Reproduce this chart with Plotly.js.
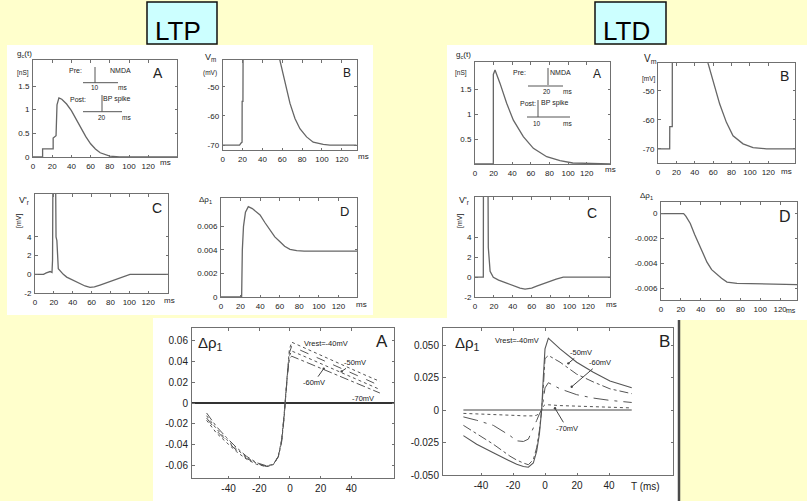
<!DOCTYPE html>
<html><head><meta charset="utf-8">
<script src="https://cdn.plot.ly/plotly-3.0.1.min.js"></script>
<style>html,body{margin:0;padding:0;background:#FFFFCC;overflow:hidden;}#chart{width:807px;height:501px;}</style>
</head><body><div id="chart"></div>
<script>
// ---------------- DATA ----------------
// LTP (pre at 10 ms, post at 20 ms)
const ltpA_t=[0,10,10,21,21,24,25,27,30,35,40,46,50,55,60,65,70,75,80,90,150];
const ltpA_g=[0,0,0.17,0.17,0.4,0.45,1.1,1.25,1.22,1.12,0.98,0.75,0.6,0.43,0.28,0.17,0.09,0.05,0.02,0,0];
const ltpB_t=[0,17,18.5,19.5,19.6,20.4,20.6,55,57.7,62.8,67.8,72.8,77.8,84.5,91.2,101.3,108,135];
const ltpB_v=[-70,-70,-69.3,-69,-55,-55,-30,-36,-41,-48.8,-55.7,-60.9,-64.4,-67.2,-69,-69.8,-70,-70];
const ltpC_t=[0,9,12,16,18,18.6,19.2,21.5,22.3,23.2,24.7,27,30,33.6,40,47.7,53,58.3,63,68.9,76,83,88,93.6,100.7,141];
const ltpC_v=[0,0,0.15,0.3,0.2,1.5,15,15,4,3.6,0.6,0.3,0,-0.3,-0.6,-0.95,-1.25,-1.4,-1.35,-1.15,-0.9,-0.6,-0.4,-0.2,0,0];
const ltpD_t=[0,21.1,21.8,23,25,27.9,32,39.9,45,50.1,55,60.3,65,70.5,77.4,85,139];
const ltpD_v=[0,0,0.0040,0.0060,0.0072,0.00766,0.0075,0.00696,0.0063,0.00568,0.0051,0.00469,0.0043,0.00405,0.00393,0.0039,0.0039];
// LTD (post at 10 ms, pre at 20 ms)
const ltdA_t=[0,19.7,19.7,21.5,26.9,34,41.2,51.9,62.7,77,91.3,105,145];
const ltdA_g=[0,0,1.8,1.89,1.62,1.22,0.88,0.55,0.315,0.147,0.07,0.02,0];
const ltdB_t=[0,12.7,12.8,15.5,15.6,52,54.4,59.9,67.1,74.4,81.6,92.5,103.4,118,149];
const ltdB_v=[-70,-70,-62.4,-62.4,-30,-35,-40.5,-46.6,-54.6,-60.9,-65.5,-68.3,-69.6,-70,-70];
const ltdC_t=[0,8.8,9,13.5,14.1,15,16,19.4,25,33.5,40,47.7,53,60,65.3,72,79.4,86,93.5,143];
const ltdC_v=[0,0,15,15,3,1.5,0.6,0,-0.3,-0.6,-0.85,-1.1,-1.2,-1.1,-0.9,-0.65,-0.4,-0.2,0,0];
const ltdD_t=[0,22.8,25,29.5,34,39.6,46.3,51,56.4,61,66.5,76.5,137];
const ltdD_v=[0,0,-0.0002,-0.0008,-0.0017,-0.0027,-0.0039,-0.0045,-0.0049,-0.0052,-0.0055,-0.0056,-0.0057];
// Bottom A: Δρ1 vs T for Vrest = -40,-50,-60,-70 mV
const botA_T=[-54.3,-47.8,-41.3,-34.8,-28.3,-21.7,-15.2,-10.9,-7.6,-5.4,-3.9,-2.8,-1.7,-0.4,1.1,10,20,30,40,50,58.6];
const botA_m40=[-0.0166,-0.0290,-0.0380,-0.0468,-0.0540,-0.0590,-0.0612,-0.0594,-0.0512,-0.0352,-0.0128,0.0096,0.032,0.0512,0.0585,0.0525,0.0458,0.0393,0.0327,0.0262,0.0208];
const botA_m50=[-0.0144,-0.0268,-0.0364,-0.0455,-0.0532,-0.0585,-0.0610,-0.0594,-0.0515,-0.0360,-0.0140,0.0080,0.030,0.0480,0.0545,0.0488,0.0421,0.0355,0.0290,0.0224,0.0166];
const botA_m60=[-0.0122,-0.0250,-0.0350,-0.0442,-0.0522,-0.0580,-0.0607,-0.0592,-0.0518,-0.0368,-0.0150,0.0070,0.028,0.0450,0.0500,0.0444,0.0380,0.0315,0.0250,0.0186,0.0130];
const botA_m70=[-0.0096,-0.0228,-0.0332,-0.0428,-0.0512,-0.0574,-0.0604,-0.0590,-0.0520,-0.0375,-0.0160,0.0060,0.026,0.0420,0.0450,0.0396,0.0334,0.0272,0.0210,0.0148,0.0096];
// Bottom B
const botB_T=[-51,-42.7,-32.3,-21.9,-17.7,-13.5,-10.4,-7.3,-5.2,-3.5,-2.1,-1,0,2.1,9.4,19.8,30.2,40.6,54.2];
const botB_m40=[-0.0197,-0.0263,-0.0329,-0.0395,-0.0418,-0.0434,-0.044,-0.0408,-0.0316,-0.0184,0,0.0263,0.047,0.0553,0.047,0.0368,0.029,0.0224,0.0171];
const botB_m50=[-0.0118,-0.0184,-0.0263,-0.0355,-0.0385,-0.0408,-0.0421,-0.0382,-0.029,-0.0158,0,0.0184,0.0395,0.042,0.0368,0.0276,0.0216,0.0163,0.0126];
const botB_m60=[-0.0053,-0.0079,-0.0118,-0.0197,-0.0237,-0.0242,-0.0224,-0.0145,-0.008,-0.003,0,0.008,0.017,0.021,0.0163,0.0118,0.0092,0.0074,0.0058];
const botB_m70=[-0.0026,-0.0029,-0.0032,-0.004,-0.0042,-0.0045,-0.0047,-0.0045,-0.004,-0.0025,0,0.003,0.004,0.004,0.0034,0.003,0.0024,0.002,0.0016];
const botB_zeroT=[-51,54.2];
const botB_zeroV=[0,0];
// tick labels
const msTicks=[0,20,40,60,80,100,120];
const msText=['0','20','40','60','80','100','120'];
const botTicks=[-40,-20,0,20,40];
const botTickText=['-40','-20','0','20','40'];

// ---------------- LAYOUT HELPERS ----------------
const W=807,H=501;
const px=x=>x/W, py=y=>1-y/H;
const FONT='Liberation Sans, Arial, sans-serif';
const LC='#707070';
const INK='#222';

function axis(dom, range, tv, tt, size, anchor){
  return {domain:dom, range:range, tickvals:tv, ticktext:tt, showline:true, mirror:'ticks',
    linecolor:LC, linewidth:1, ticks:'inside', ticklen:2.5, tickcolor:LC, tickwidth:1,
    tickfont:{family:FONT,size:size,color:INK}, showgrid:false, zeroline:false,
    anchor:anchor, fixedrange:true, ticklabelstandoff:1};
}
const panels=[
 {box:[33,60,177,157], xr:[0,150], yr:[0,2.05], yt:[0,0.5,1,1.5], ytt:['0','0.5','1','1.5']},
 {box:[222.7,60,356.7,150], xr:[0,135], yr:[-71.7,-40.8], yt:[-70,-60,-50], ytt:['-70','-60','-50']},
 {box:[35,194,168,293], xr:[0,141], yr:[-2,8.6], yt:[-2,0,2,4], ytt:['-2','0','2','4']},
 {box:[221,198,357,297], xr:[0,139], yr:[0,0.0084], yt:[0,0.002,0.004,0.006], ytt:['0','0.002','0.004','0.006']},
 {box:[475,62,610,164], xr:[0,145], yr:[0,2.05], yt:[0.5,1,1.5], ytt:['0.5','1','1.5']},
 {box:[658,63,795,163], xr:[0,149], yr:[-74.9,-40.45], yt:[-70,-60,-50], ytt:['-70','-60','-50']},
 {box:[475,197,610,297], xr:[0,143], yr:[-2,8.1], yt:[-2,0,2,4], ytt:['-2','0','2','4']},
 {box:[661,202,797,300], xr:[0,137], yr:[-0.00694,0.00093], yt:[0,-0.002,-0.004,-0.006], ytt:['0','-0.002','-0.004','-0.006']},
 {box:[192,328,394,478], xr:[-63.8,67.8], yr:[-0.0721,0.0721], yt:[-0.06,-0.04,-0.02,0,0.02,0.04,0.06], ytt:['-0.06','-0.04','-0.02','0','0.02','0.04','0.06'], bottom:true},
 {box:[443,328,673,475], xr:[-63.75,80], yr:[-0.05,0.0631], yt:[-0.05,-0.025,0,0.025,0.05], ytt:['-0.050','-0.025','0','0.025','0.050'], bottom:true}
];
const layout={width:W,height:H,margin:{l:0,r:0,t:0,b:0,autoexpand:false},paper_bgcolor:'#FFFFCC',plot_bgcolor:'rgba(0,0,0,0)',
  showlegend:false,shapes:[],annotations:[],font:{family:FONT,color:INK}};
panels.forEach((p,i)=>{
  const n=i===0?'':String(i+1);
  const [x0,y0,x1,y1]=p.box;
  const fs=p.bottom?10:8;
  const xa=axis([px(x0),px(x1)],p.xr,p.bottom?botTicks:msTicks,p.bottom?botTickText:msText,fs,'y'+n);
  const ya=axis([py(y1),py(y0)],p.yr,p.yt,p.ytt,fs,'x'+n);
  if(i===8){ya.zeroline=true;ya.zerolinecolor='#333';ya.zerolinewidth=1.2;}
  layout['xaxis'+n]=xa; layout['yaxis'+n]=ya;
});
// white paper patches
function rectPx(x0,y0,x1,y1,fill,line,lw){
  layout.shapes.push({type:'rect',xref:'paper',yref:'paper',x0:px(x0),x1:px(x1),y0:py(y1),y1:py(y0),
    fillcolor:fill,line:{color:line||fill,width:lw||0},layer:'below'});
}
function linePx(x0,y0,x1,y1,color,w){
  layout.shapes.push({type:'line',xref:'paper',yref:'paper',x0:px(x0),x1:px(x1),y0:py(y0),y1:py(y1),
    line:{color:color||'#555',width:w||1},layer:'above'});
}
rectPx(7,45,373,315,'#ffffff');
rectPx(447,45,807,320,'#ffffff');
rectPx(153,318,678,501,'#ffffff');
linePx(679,320,679,501,'#4a4a4a',2.5);
// LTP / LTD boxes
rectPx(147,2,217,44,'#CCFFFF','#111',1.5);
rectPx(595,2,666,44,'#CCFFFF','#111',1.5);

function txt(t,x,y,size,opt){
  layout.annotations.push(Object.assign({text:t,xref:'paper',yref:'paper',x:px(x),y:py(y),
    xanchor:'center',yanchor:'middle',showarrow:false,font:{family:FONT,size:size,color:INK}},opt||{}));
}
txt('LTP',177.5,31,26,{font:{family:FONT,size:26,color:'#000'}});
txt('LTD',626,31,26,{font:{family:FONT,size:26,color:'#000'}});
// axis labels (top panels)
txt('g<sub>c</sub>(t)',24,54,8); txt('[nS]',23,73,6.5);
txt('V<sub>m</sub>',210,57,9); txt('(mV)',210,73,6.5);
txt("V'<sub>r</sub>",24,200,9); txt('[mV]',19,221,7,{textangle:-90});
txt('Δρ<sub>1</sub>',205,200,8);
txt('g<sub>c</sub>(t)',463,55,8); txt('[nS]',461,73,6.5);
txt('V<sub>m</sub>',650,59,10); txt('[mV]',649,79,6.5);
txt("V'<sub>r</sub>",464,201,9); txt('[mV]',460,221,7,{textangle:-90});
txt('Δρ<sub>1</sub>',646,196,8);
// ms labels
[[165,162],[363,156],[169,300],[361,304],[610,169],[611,304],[786,172]].forEach(a=>txt('ms',a[0],a[1],8));
txt('ms',791,310,7);
txt('T (ms)',645,486,10);
// panel letters
txt('A',158,73,14); txt('B',347,73,12); txt('C',157,208,14); txt('D',344,211,13);
txt('A',597,74,12); txt('B',784,76,14); txt('C',592,213,14); txt('D',785,216,16);
txt('A',382,341,17); txt('B',664,341,17);
txt('Δρ<sub>1</sub>',210,343,15); txt('Δρ<sub>1</sub>',467,343,15);
// timing insets (schematics)
txt('Pre:',75,71,7); txt('NMDA',120,71,7); txt('10',95,87.5,6.5); txt('ms',123,87.5,6.5);
txt('Post:',78,99,7); txt('BP spike',117,99,7); txt('20',102,117.5,6.5); txt('ms',126,117.5,6.5);
linePx(95,67,95,83,'#555',1); linePx(83,82.7,118,82.7,'#555',1);
linePx(102,95,102,111.7,'#555',1); linePx(83,111.7,122,111.7,'#555',1);
txt('Pre:',519.5,73,7); txt('NMDA',560,73,7); txt('20',547,92,6.5); txt('ms',567,92,6.5);
txt('Post:',528,103,7); txt('BP spike',555,103,7); txt('10',537,123,6.5); txt('ms',567,123,6.5);
linePx(548,68,548,85,'#555',1); linePx(528,86,563,86,'#555',1);
linePx(538,100,538,117,'#555',1); linePx(527,117,570,117,'#555',1);
// curve labels bottom panels
txt('Vrest=-40mV',326,343,7.5); txt('-70mV',363,398,7.5);
txt('Vrest=-40mV',517,340,7.5);
function arrowLab(t,xa,ya,x,y,ax,ay){
  layout.annotations.push({text:t,xref:xa,yref:ya,x:x,y:y,ax:ax,ay:ay,showarrow:true,arrowhead:6,
    arrowsize:0.6,arrowwidth:1,arrowcolor:'#444',standoff:0,font:{family:FONT,size:7.5,color:INK}});
}
arrowLab('-50mV','x9','y9',33.7,0.0304,13,-9);
arrowLab('-60mV','x9','y9',22,0.033,-10,14);
arrowLab('-50mV','x10','y10',14.6,0.0359,13,-11);
arrowLab('-60mV','x10','y10',16.7,0.0179,28,-24);
arrowLab('-70mV','x10','y10',6.25,0.0013,12,20);

// ---------------- TRACES ----------------
function tr(x,y,n,opt){
  return Object.assign({x:x,y:y,xaxis:'x'+n,yaxis:'y'+n,mode:'lines',hoverinfo:'skip',
    line:{color:'#666',width:1.3}},opt||{});
}
const G='#555';
const data=[
  tr(ltpA_t,ltpA_g,''), tr(ltpB_t,ltpB_v,'2'), tr(ltpC_t,ltpC_v,'3'), tr(ltpD_t,ltpD_v,'4'),
  tr(ltdA_t,ltdA_g,'5'), tr(ltdB_t,ltdB_v,'6'), tr(ltdC_t,ltdC_v,'7'), tr(ltdD_t,ltdD_v,'8'),
  tr(botA_T,botA_m40,'9',{line:{color:G,width:1,dash:'dot'}}),
  tr(botA_T,botA_m50,'9',{line:{color:G,width:1,dash:'dash'}}),
  tr(botA_T,botA_m60,'9',{line:{color:G,width:1,dash:'dot'}}),
  tr(botA_T,botA_m70,'9',{line:{color:G,width:1,dash:'dashdot'}}),
  tr(botB_zeroT,botB_zeroV,'10',{line:{color:'#444',width:1.2}}),
  tr(botB_T,botB_m40,'10',{line:{color:G,width:1.1}}),
  tr(botB_T,botB_m50,'10',{line:{color:G,width:1,dash:'dashdot'}}),
  tr(botB_T,botB_m60,'10',{line:{color:G,width:1,dash:'longdashdot'}}),
  tr(botB_T,botB_m70,'10',{line:{color:G,width:1,dash:'dot'}})
];
Plotly.newPlot('chart',data,layout,{staticPlot:true,displayModeBar:false});
</script>
</body></html>
